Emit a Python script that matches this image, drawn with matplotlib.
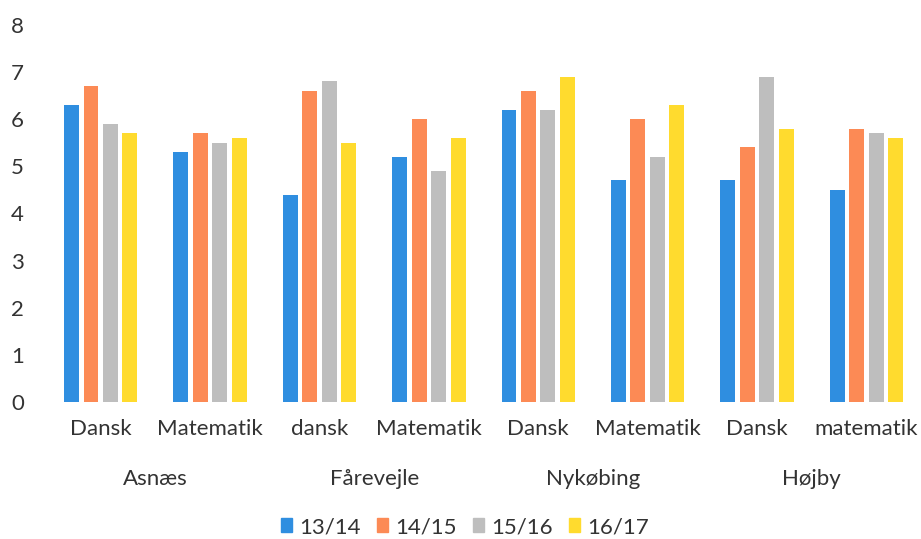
import numpy as np
from matplotlib import pyplot as plt
from matplotlib.patches import Patch
from matplotlib.transforms import blended_transform_factory

# Text and layout options
FONT = 'Lato'
FONTSIZE = 16
TEXTCOLOR = '#333333'

# Data
subjects = ['Dansk', 'Matematik', 'dansk', 'Matematik',
            'Dansk', 'Matematik', 'Dansk', 'matematik']
schools = ['Asnæs', 'Fårevejle', 'Nykøbing', 'Højby']
years = ['13/14', '14/15', '15/16', '16/17']

y1314 = [6.3, 5.3, 4.4, 5.2, 6.2, 4.7, 4.7, 4.5]
y1415 = [6.7, 5.7, 6.6, 6.0, 6.6, 6.0, 5.4, 5.8]
y1516 = [5.9, 5.5, 6.8, 4.9, 6.2, 5.2, 6.9, 5.7]
y1617 = [5.7, 5.6, 5.5, 5.6, 6.9, 6.3, 5.8, 5.6]

series = [y1314, y1415, y1516, y1617]
colors = ['#2F8EE0', '#FC8A55', '#BEBEBE', '#FFDB2E']

plt.rcParams['font.family'] = [FONT, 'DejaVu Sans']

fig = plt.figure(figsize=(9.21, 5.39), dpi=100)
ax = fig.add_axes([0.05, 0.254, 0.95, 0.70])

x = np.arange(len(subjects))
pitch = 0.178
width = 0.137
for i, vals in enumerate(series):
    ax.bar(x + (i - 1.5) * pitch, vals, width=width, color=colors[i], label=years[i])

ax.set_xlim(-0.5, len(subjects) - 0.5)
ax.set_ylim(0, 8)
ax.set_yticks(range(0, 9))
ax.set_xticks(x)
ax.set_xticklabels(subjects)
ax.tick_params(axis='both', length=0, labelsize=FONTSIZE, labelcolor=TEXTCOLOR)
ax.tick_params(axis='y', pad=16)
ax.tick_params(axis='x', pad=12)
for s in ax.spines.values():
    s.set_visible(False)

# School names under each pair of subjects
trans = blended_transform_factory(ax.transData, ax.transAxes)
for k, name in enumerate(schools):
    ax.text(2 * k + 0.5, -0.205, name, transform=trans, ha='center', va='center',
            fontsize=FONTSIZE, color=TEXTCOLOR)

handles = [Patch(color=c, label=l) for c, l in zip(colors, years)]
fig.legend(handles=handles, loc='center', bbox_to_anchor=(0.505, 0.022), ncol=4,
           frameon=False, fontsize=FONTSIZE, handlelength=0.5, handleheight=0.6,
           handletextpad=0.35, columnspacing=0.7, labelcolor=TEXTCOLOR)

fig.savefig('out.png', dpi=100)
